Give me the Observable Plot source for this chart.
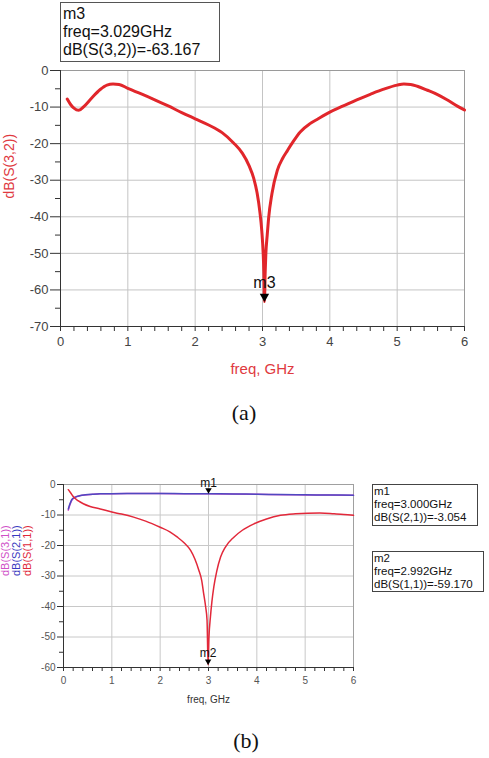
<!DOCTYPE html>
<html>
<head>
<meta charset="utf-8">
<script src="https://cdn.jsdelivr.net/npm/d3@7"></script>
<script src="https://cdn.jsdelivr.net/npm/@observablehq/plot@0.6"></script>
<style>
  html, body { margin: 0; padding: 0; background: #fff; }
  body { position: relative; width: 489px; height: 758px; overflow: hidden; font-family: "Liberation Sans", Arial, sans-serif; }
  .abs { position: absolute; }
  .box { position: absolute; box-sizing: border-box; background: #fff; color: #111; white-space: nowrap; }
  .cap { position: absolute; font-family: "Liberation Serif", "DejaVu Serif", serif; font-size: 22px; color: #111; transform: translate(-50%, -50%); }
</style>
</head>
<body>
<div id="chartA" class="abs" style="left:0;top:0"></div>
<div id="chartB" class="abs" style="left:0;top:455px"></div>
<div class="box" style="left:60px;top:2px;width:160px;height:60px;border:1.5px solid #555;font-size:16px;line-height:18px;padding:1.5px 0 0 2px;">m3<br>freq=3.029GHz<br>dB(S(3,2))=-63.167</div>
<div class="box" style="left:372px;top:484px;width:106px;height:42px;border:1px solid #444;font-size:11.5px;line-height:12.8px;padding:0 0 0 1px;">m1<br>freq=3.000GHz<br>dB(S(2,1))=-3.054</div>
<div class="box" style="left:372px;top:551px;width:112px;height:41px;border:1px solid #444;font-size:11.5px;line-height:13px;padding:0 0 0 1px;">m2<br>freq=2.992GHz<br>dB(S(1,1))=-59.170</div>
<div class="cap" style="left:244px;top:413px;">(a)</div>
<div class="cap" style="left:246px;top:741px;">(b)</div>
<script>
// ---------- Panel (a): dB(S(3,2)) ----------
const aFreq = [0.1,0.15,0.2,0.27,0.35,0.45,0.59,0.69,0.78,0.87,1.0,1.2,1.4,1.6,1.8,2.0,2.2,2.4,2.57,2.7,2.8,2.87,2.92,2.96,2.99,3.01,3.02,3.029,3.04,3.05,3.07,3.09,3.14,3.22,3.3,3.37,3.45,3.56,3.7,3.81,4.0,4.2,4.4,4.6,4.8,5.0,5.1,5.2,5.3,5.45,5.6,5.74,5.9,6.0];
const aS32 = [-7.8,-9.3,-10.3,-10.9,-9.8,-7.8,-5.2,-4.0,-3.7,-3.8,-4.9,-6.4,-8.0,-9.7,-11.5,-13.2,-14.9,-17.0,-19.8,-22.6,-26.0,-29.5,-33.5,-38.5,-44.0,-50.0,-55.0,-63.167,-55.0,-50.0,-45.0,-40.5,-33.7,-27.3,-24.0,-21.9,-19.6,-16.8,-14.6,-13.4,-11.4,-9.7,-8.0,-6.5,-5.1,-4.0,-3.7,-3.8,-4.3,-5.4,-6.6,-8.0,-9.8,-10.8];
const aMarker = {name: "m3", freq: 3.029, db: -63.167};
const aXTicks = [0,1,2,3,4,5,6];
const aYTicks = [0,-10,-20,-30,-40,-50,-60,-70];
const aYLabel = "dB(S(3,2))";
const xLabel = "freq, GHz";

// ---------- Panel (b): dB(S(1,1)), dB(S(2,1)), dB(S(3,1)) ----------
const bFreq11 = [0.1,0.15,0.21,0.3,0.41,0.55,0.76,1.0,1.2,1.45,1.7,2.0,2.2,2.35,2.5,2.63,2.72,2.8,2.86,2.9,2.94,2.97,2.992,3.01,3.04,3.07,3.11,3.17,3.25,3.35,3.53,3.7,3.94,4.2,4.49,4.8,5.05,5.3,5.6,5.8,6.0];
const bS11 = [-1.7,-2.8,-4.1,-5.3,-6.3,-7.2,-8.0,-9.05,-9.7,-10.7,-12.0,-14.0,-15.5,-17.2,-19.2,-21.6,-24.5,-28.1,-31.5,-35.8,-40.0,-44.5,-59.17,-50.0,-43.4,-38.5,-33.6,-28.5,-23.8,-20.5,-17.2,-15.0,-12.9,-11.3,-10.1,-9.6,-9.4,-9.35,-9.6,-9.8,-10.1];
const bFreq21 = [0.1,0.13,0.17,0.22,0.28,0.35,0.45,0.6,0.76,1.0,1.5,2.0,2.5,3.0,3.5,4.0,4.5,5.0,5.5,6.0];
const bS21 = [-8.0,-6.5,-5.0,-4.3,-3.9,-3.6,-3.4,-3.2,-3.05,-3.0,-2.95,-2.95,-3.0,-3.054,-3.1,-3.2,-3.3,-3.4,-3.45,-3.5];
const bS31 = [-8.4,-6.8,-5.2,-4.4,-3.95,-3.65,-3.42,-3.22,-3.07,-3.02,-2.97,-2.97,-3.02,-3.06,-3.12,-3.22,-3.32,-3.42,-3.47,-3.52];
const bMarkers = [
  {name: "m1", freq: 3.000, db: -3.054, dy: -11},
  {name: "m2", freq: 2.992, db: -59.17, dy: -12}
];
const bXTicks = [0,1,2,3,4,5,6];
const bYTicks = [0,-10,-20,-30,-40,-50,-60];
const bYLabels = [
  {text: "dB(S(3,1))", color: "#d050c8", dx: -58},
  {text: "dB(S(2,1))", color: "#3a3ac0", dx: -47},
  {text: "dB(S(1,1))", color: "#e0283a", dx: -36}
];

const zip = (xs, ys) => xs.map((f, i) => ({freq: f, db: ys[i]}));
const minorX = d3.range(0, 6.0001, 0.2).filter(v => Math.abs(v - Math.round(v)) > 1e-6);

const chartA = Plot.plot({
  width: 489, height: 395,
  marginLeft: 60, marginRight: 25, marginTop: 70, marginBottom: 69,
  style: {fontFamily: "Liberation Sans, Arial, sans-serif", fontSize: "13px", background: "transparent", overflow: "visible"},
  x: {domain: [0, 6]},
  y: {domain: [-70, 0]},
  marks: [
    Plot.gridX(aXTicks, {stroke: "#c4c4c4", strokeOpacity: 1}),
    Plot.gridY(aYTicks, {stroke: "#c4c4c4", strokeOpacity: 1}),
    Plot.frame({stroke: "#9a9a9a"}),
    Plot.axisX(aXTicks, {tickSize: 5, tickPadding: 5, label: null, tickFormat: d => String(d), fill: "#444", stroke: "#333"}),
    Plot.axisX(minorX, {tickSize: 5, fill: "none", stroke: "#333", label: null}),
    Plot.axisY(aYTicks, {tickSize: 10, tickPadding: 2, label: null, tickFormat: d => String(d), fill: "#444", stroke: "#333"}),
    Plot.axisY(d3.range(-65, 0, 10), {tickSize: 5, fill: "none", stroke: "#333", label: null}),
    Plot.ruleX([0], {stroke: "#333"}),
    Plot.ruleY([-70], {stroke: "#333"}),
    Plot.line(zip(aFreq, aS32), {x: "freq", y: "db", stroke: "#e1262b", strokeWidth: 3, curve: "monotone-x"}),
    Plot.dot([aMarker], {x: "freq", y: "db", symbol: "triangle", rotate: 180, r: 3.5, fill: "#000", stroke: "none", dy: -5}),
    Plot.text([aMarker], {x: "freq", y: "db", text: "name", dy: -19, fontSize: 16, fill: "#111"}),
    Plot.text([xLabel], {text: d => d, frameAnchor: "bottom", dy: 47, fontSize: 15, fill: "#e03a3f"}),
    Plot.text([aYLabel], {text: d => d, frameAnchor: "left", rotate: -90, dx: -50.5, fontSize: 14, fill: "#e03a3f"})
  ]
});
document.getElementById("chartA").appendChild(chartA);

const chartB = Plot.plot({
  width: 489, height: 260,
  marginLeft: 63, marginRight: 136, marginTop: 29, marginBottom: 48,
  style: {fontFamily: "Liberation Sans, Arial, sans-serif", fontSize: "10px", background: "transparent", overflow: "visible"},
  x: {domain: [0, 6]},
  y: {domain: [-60, 0]},
  marks: [
    Plot.gridX(bXTicks, {stroke: "#c8c8c8", strokeOpacity: 1}),
    Plot.gridY(bYTicks, {stroke: "#c8c8c8", strokeOpacity: 1}),
    Plot.frame({stroke: "#a0a0a0"}),
    Plot.axisX(bXTicks, {tickSize: 4, tickPadding: 5, label: null, tickFormat: d => String(d), fill: "#555", stroke: "#333"}),
    Plot.axisX(minorX, {tickSize: 4, fill: "none", stroke: "#333", label: null}),
    Plot.axisY(bYTicks, {tickSize: 6, tickPadding: 2, label: null, tickFormat: d => String(d), fill: "#555", stroke: "#333"}),
    Plot.axisY(d3.range(-55, 0, 10), {tickSize: 4, fill: "none", stroke: "#333", label: null}),
    Plot.ruleX([0], {stroke: "#333"}),
    Plot.ruleY([-60], {stroke: "#333"}),
    Plot.line(zip(bFreq21, bS31), {x: "freq", y: "db", stroke: "#d050c8", strokeWidth: 1.5, curve: "monotone-x"}),
    Plot.line(zip(bFreq21, bS21), {x: "freq", y: "db", stroke: "#5048c0", strokeWidth: 1.5, curve: "monotone-x"}),
    Plot.line(zip(bFreq11, bS11), {x: "freq", y: "db", stroke: "#e2283a", strokeWidth: 1.5, curve: "monotone-x"}),
    Plot.dot(bMarkers, {x: "freq", y: "db", symbol: "triangle", rotate: 180, r: 2.4, fill: "#000", stroke: "none", dy: -3.7}),
    Plot.text(bMarkers.filter(d => d.name === "m1"), {x: "freq", y: "db", text: "name", dy: -11, fontSize: 12, fill: "#111"}),
    Plot.text(bMarkers.filter(d => d.name === "m2"), {x: "freq", y: "db", text: "name", dy: -12, fontSize: 12, fill: "#111"}),
    Plot.text([xLabel], {text: d => d, frameAnchor: "bottom", dy: 35, fontSize: 10, fill: "#333"}),
    ...bYLabels.map(l => Plot.text([l.text], {text: d => d, frameAnchor: "left", rotate: -90, dx: l.dx, fontSize: 11, fill: l.color}))
  ]
});
document.getElementById("chartB").appendChild(chartB);
</script>
</body>
</html>
